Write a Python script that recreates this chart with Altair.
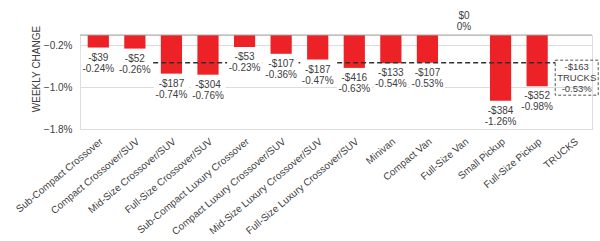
import altair as alt
import pandas as pd

categories = [
    "Sub-Compact Crossover", "Compact Crossover/SUV", "Mid-Size Crossover/SUV",
    "Full-Size Crossover/SUV", "Sub-Compact Luxury Crossover", "Compact Luxury Crossover/SUV",
    "Mid-Size Luxury Crossover/SUV", "Full-Size Luxury Crossover/SUV", "Minivan",
    "Compact Van", "Full-Size Van", "Small Pickup", "Full-Size Pickup", "TRUCKS",
]
dollar_change = [-39, -52, -187, -304, -53, -107, -187, -416, -133, -107, 0, -384, -352, -163]
pct_change = [-0.24, -0.26, -0.74, -0.76, -0.23, -0.36, -0.47, -0.63, -0.54, -0.53, 0.0, -1.26, -0.98, -0.53]
is_average = [False] * 13 + [True]
y_ticks = [-0.2, -1.0, -1.8]
avg_start = "Mid-Size Crossover/SUV"
avg_end = "TRUCKS"

def fmt_dollar(d):
    return f"-${abs(d)}" if d < 0 else f"${d}"

def fmt_pct(p):
    return f"{p:.2f}%" if p != 0 else "0%"

rows = []
for c, d, p, a in zip(categories, dollar_change, pct_change, is_average):
    if a:
        kind = "avg"
        label = f"{fmt_dollar(d)}\n{c}\n{fmt_pct(p)}"
    elif p == 0:
        kind = "zero"
        label = f"{fmt_dollar(d)}\n{fmt_pct(p)}"
    else:
        kind = "bar"
        label = f"{fmt_dollar(d)}\n{fmt_pct(p)}"
    rows.append({"category": c, "pct": p, "label": label, "kind": kind})
df = pd.DataFrame(rows)

avg_row = df[df.kind == "avg"].iloc[0]
avg_df = pd.DataFrame([{"start": avg_start, "end": avg_end, "pct": avg_row["pct"]}])
zero_df = pd.DataFrame([{"y": 0}])

FONT = "Liberation Sans"
TXT = "#404040"
RED = "#EC2227"

xscale = alt.Scale(domain=categories, paddingInner=0.42, paddingOuter=0.21)
yscale = alt.Scale(domain=[-1.8, 0], nice=False, zero=False)

x_enc = alt.X(
    "category:N", scale=xscale, sort=categories, title=None,
    axis=alt.Axis(labelAngle=-40, labelAlign="right", labelBaseline="top",
                  labelPadding=7, labelFontSize=10, labelColor=TXT, labelFont=FONT,
                  domain=False, ticks=False, labelOverlap=False, labelLimit=300),
)
y_enc = alt.Y(
    "pct:Q", scale=yscale,
    axis=alt.Axis(values=y_ticks, grid=True, gridColor="#dcdcdc", domain=False, ticks=False,
                  labelExpr="format(datum.value, '.1f') + '%'", labelPadding=8,
                  labelFontSize=10, labelColor=TXT, labelFont=FONT,
                  title="WEEKLY CHANGE", titleFont=FONT, titleFontSize=10,
                  titleFontWeight="normal", titleColor=TXT, titlePadding=2,
                  titleLimit=200, titleY=33.5),
)

base = alt.Chart(df)

bars = base.transform_filter("datum.kind != 'avg'").mark_bar(color=RED).encode(
    x=x_enc, y=y_enc, y2=alt.datum(0)
)

zero_rule = alt.Chart(zero_df).mark_rule(color="#a6a6a6", strokeWidth=1).encode(
    y=alt.Y("y:Q", scale=yscale)
)

dash_rule = alt.Chart(avg_df).mark_rule(
    color="#333333", strokeDash=[5, 3], strokeWidth=1.5, xOffset=-18.3, x2Offset=-18.3
).encode(
    x=alt.X("start:N", scale=xscale, sort=categories),
    x2="end:N",
    y=alt.Y("pct:Q", scale=yscale),
)

box_path = "M-1,-0.69L1,-0.69L1,0.69L-1,0.69Z"
label_bg = base.transform_filter("datum.kind == 'bar'").mark_point(
    shape=box_path, size=35 * 35, filled=True, fill="white", opacity=1,
    strokeWidth=0, yOffset=14,
).encode(
    x=alt.X("category:N", scale=xscale, sort=categories),
    y=alt.Y("pct:Q", scale=yscale),
)

bar_labels = base.transform_filter("datum.kind == 'bar'").mark_text(
    baseline="top", align="center", dy=5, lineBreak="\n", lineHeight=11,
    fontSize=10, font=FONT, color=TXT,
).encode(
    x=alt.X("category:N", scale=xscale, sort=categories),
    y=alt.Y("pct:Q", scale=yscale),
    text="label:N",
)

zero_labels = base.transform_filter("datum.kind == 'zero'").mark_text(
    baseline="bottom", align="center", dy=-14, lineBreak="\n", lineHeight=11,
    fontSize=10, font=FONT, color=TXT,
).encode(
    x=alt.X("category:N", scale=xscale, sort=categories),
    y=alt.Y("pct:Q", scale=yscale),
    text="label:N",
)

avg_box = base.transform_filter("datum.kind == 'avg'").mark_point(
    shape="M-1,-0.814L1,-0.814L1,0.814L-1,0.814Z", size=43 * 43, filled=False,
    stroke="#555555", strokeDash=[3, 2], strokeWidth=1, opacity=1,
    xOffset=3, yOffset=15,
).encode(
    x=alt.X("category:N", scale=xscale, sort=categories),
    y=alt.Y("pct:Q", scale=yscale),
)

avg_label = base.transform_filter("datum.kind == 'avg'").mark_text(
    baseline="middle", align="center", dx=3, dy=4, lineBreak="\n", lineHeight=11,
    fontSize=9.5, font=FONT, color=TXT,
).encode(
    x=alt.X("category:N", scale=xscale, sort=categories),
    y=alt.Y("pct:Q", scale=yscale),
    text="label:N",
)

chart = alt.layer(
    bars, zero_rule, dash_rule, label_bg, bar_labels, zero_labels, avg_box, avg_label
).properties(
    width=512, height=94,
    autosize=alt.AutoSizeParams(type="none"),
    padding={"left": 80, "top": 35, "right": 8, "bottom": 112},
).configure_view(stroke=None).configure(background="white")

chart.save("out.html", embed_options={"renderer": "svg", "actions": False})
